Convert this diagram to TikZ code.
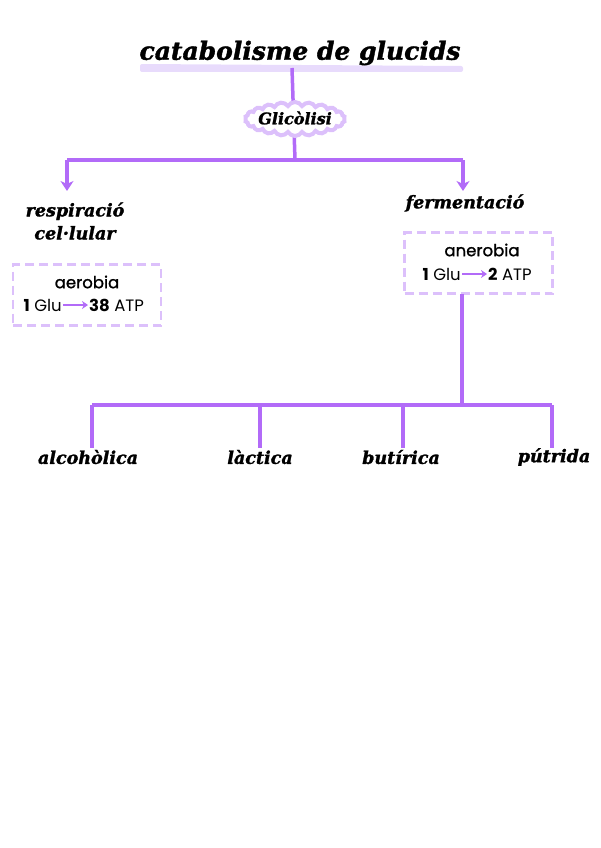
\documentclass[tikz,border=0pt]{standalone}
\usepackage{fontspec}
\setmainfont{Poppins}
\newfontfamily\medfont{Poppins}[FakeBold=1.2]
\newfontfamily\headfont{DejaVu Serif}[BoldItalicFeatures={FakeBold=1.5}]
\usetikzlibrary{arrows.meta,shapes.symbols}
\definecolor{lineP}{HTML}{B26BF8}
\definecolor{boxP}{HTML}{DCC0FB}
\definecolor{hiP}{HTML}{E8DBFC}
\tikzset{
  conn/.style={draw=lineP,line width=3.2pt},
  arr/.style={conn,-{Stealth[length=10pt,width=13pt,inset=3pt]}},
  head/.style={font=\headfont\bfseries\itshape\fontsize{17.5}{21}\selectfont,align=center,inner sep=1pt},
  dbox/.style={draw=boxP,line width=2.5pt,dash pattern=on 9pt off 5pt,minimum width=148pt,minimum height=61pt},
  btxt/.style={font=\fontsize{16.5}{18}\selectfont,inner sep=1pt},
  garr/.style={draw=lineP,line width=2.5pt,-{Stealth[length=6pt,width=8pt]}},
}
\begin{document}
\begin{tikzpicture}[x=1pt,y=-1pt]
\useasboundingbox (0,0) rectangle (600,848);
% title
\fill[hiP,rounded corners=2pt] (140,64) -- (463,66) -- (463,72) -- (140,72) -- cycle;
\node[head,font=\headfont\bfseries\itshape\fontsize{25}{29}\selectfont] (title) at (300,53) {catabolisme de glucids};
\coordinate (tb) at (292,68);
\coordinate (split) at (295,160);
\draw[conn,line width=3.5pt] (tb) -- (split);
\node[cloud,cloud puffs=22,cloud puff arc=120,aspect=3,draw=boxP,line width=4pt,fill=white,inner sep=0pt,
      minimum width=100pt,minimum height=34pt] (glicbg) at (295,119) {};
\node[head,font=\headfont\bfseries\itshape\fontsize{16}{18}\selectfont] (glic) at (295,118) {Glicòlisi};
% branches
\coordinate (L) at (67,160);
\coordinate (R) at (463,160);
\coordinate (Lend) at (67,191);
\coordinate (Rend) at (463,191);
\draw[conn] (L) -- (R);
\draw[arr] (L) -- (Lend);
\draw[arr] (R) -- (Rend);
\node[head] (resp) at (75,221) {respiració\\[2pt]cel·lular};
\node[head] (ferm) at (465,203) {fermentació};
% boxes
\node[dbox] (aerobox) at (87,295) {};
\node[btxt,font=\medfont\fontsize{16.5}{18}\selectfont] (aer) at (87,282) {aerobia};
\node[btxt,anchor=east] (g1) at (63,305) {\textbf{1} Glu};
\node[btxt,anchor=west] (a1) at (88,305) {\textbf{38} ATP};
\draw[garr] (g1.east) -- (a1.west);
\node[dbox] (anbox) at (478.5,263) {};
\node[btxt,font=\medfont\fontsize{16.5}{18}\selectfont] (an) at (482,250) {anerobia};
\node[btxt,anchor=east] (g2) at (462,274) {\textbf{1} Glu};
\node[btxt,anchor=west] (a2) at (487,274) {\textbf{2} ATP};
\draw[garr] (g2.east) -- (a2.west);
% fermentation tree
\coordinate (fb) at (462,294);
\coordinate (fj) at (462,405);
\draw[conn] (fb) -- (fj);
\coordinate (t1) at (92,405);
\coordinate (t4) at (552,405);
\draw[conn] (t1) -- (t4);
\coordinate (d1) at (92,448);
\coordinate (t2) at (260,405);
\coordinate (d2) at (260,448);
\coordinate (t3) at (403,405);
\coordinate (d3) at (403,448);
\coordinate (d4) at (552,448);
\draw[conn] (t1) -- (d1);
\draw[conn] (t2) -- (d2);
\draw[conn] (t3) -- (d3);
\draw[conn] (t4) -- (d4);
\node[head] (alc) at (88,457) {alcohòlica};
\node[head] (lac) at (260,457) {làctica};
\node[head] (but) at (401,457) {butírica};
\node[head] (put) at (554,457) {pútrida};
\end{tikzpicture}
\end{document}
